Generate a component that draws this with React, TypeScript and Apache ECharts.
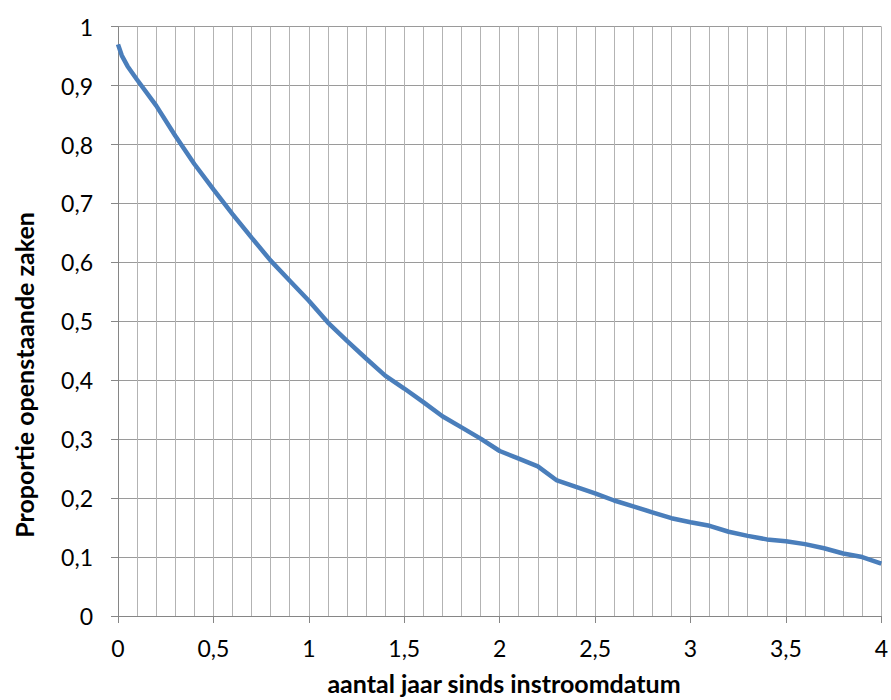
import React, { useEffect, useRef } from "react";
import * as echarts from "echarts";

const years = [0, 0.02, 0.05, 0.1, 0.2, 0.3, 0.4, 0.5, 0.6, 0.7, 0.8, 0.9, 1.0, 1.1, 1.2, 1.3, 1.4, 1.5, 1.6, 1.7, 1.8, 1.9, 2.0, 2.1, 2.2, 2.3, 2.4, 2.5, 2.6, 2.7, 2.8, 2.9, 3.0, 3.1, 3.2, 3.3, 3.4, 3.5, 3.6, 3.7, 3.8, 3.9, 4.0];
const proportion = [0.97, 0.951, 0.933, 0.91, 0.866, 0.815, 0.767, 0.724, 0.682, 0.642, 0.603, 0.569, 0.535, 0.498, 0.467, 0.437, 0.408, 0.386, 0.363, 0.339, 0.32, 0.301, 0.28, 0.267, 0.254, 0.23, 0.219, 0.208, 0.196, 0.186, 0.176, 0.166, 0.159, 0.153, 0.143, 0.136, 0.13, 0.127, 0.122, 0.115, 0.106, 0.1, 0.089];

const xTitle = "aantal jaar sinds instroomdatum";
const yTitle = "Proportie openstaande zaken";

const fmt = (v: number) => String(Math.round(v * 10) / 10).replace(".", ",");

export default function App() {
  const ref = useRef<HTMLDivElement>(null);
  useEffect(() => {
    const chart = echarts.init(ref.current!, null, { renderer: "svg" });
    const font = "Lato, 'Open Sans', sans-serif";
    chart.setOption({
      animation: false,
      backgroundColor: "#ffffff",
      grid: { left: 118, right: 9, top: 26.7, bottom: 84 },
      xAxis: {
        type: "value",
        min: 0,
        max: 4,
        interval: 0.5,
        axisLine: { show: true, lineStyle: { color: "#868686", width: 1 } },
        axisTick: { show: true, length: 7, lineStyle: { color: "#868686" } },
        minorTick: { show: false, splitNumber: 5 },
        minorSplitLine: { show: true, lineStyle: { color: "#b3b3b3", width: 1 } },
        splitLine: { show: true, lineStyle: { color: "#b3b3b3", width: 1 } },
        axisLabel: { formatter: fmt, color: "#000", fontSize: 23, fontFamily: font, margin: 20 },
      },
      yAxis: {
        type: "value",
        min: 0,
        max: 1,
        interval: 0.1,
        axisLine: { show: true, lineStyle: { color: "#868686", width: 1 } },
        axisTick: { show: true, length: 7, lineStyle: { color: "#868686" } },
        splitLine: { show: true, lineStyle: { color: "#9a9a9a", width: 1 } },
        axisLabel: { formatter: fmt, color: "#000", fontSize: 23, fontFamily: font, margin: 25 },
      },
      graphic: [
        {
          type: "text",
          x: 504,
          y: 683,
          style: { text: xTitle, font: `bold 25px ${font}`, fill: "#000", textAlign: "center", textVerticalAlign: "middle" },
        },
        {
          type: "text",
          x: 24,
          y: 375,
          rotation: Math.PI / 2,
          style: { text: yTitle, font: `bold 25px ${font}`, fill: "#000", textAlign: "center", textVerticalAlign: "middle" },
        },
      ],
      series: [
        {
          type: "line",
          data: years.map((x, i) => [x, proportion[i]]),
          showSymbol: false,
          smooth: false,
          lineStyle: { color: "#4a7ebb", width: 4.5 },
        },
      ],
    });
    return () => chart.dispose();
  }, []);
  return <div ref={ref} style={{ width: 891, height: 700, position: "absolute", left: 0, top: 0 }} />;
}
